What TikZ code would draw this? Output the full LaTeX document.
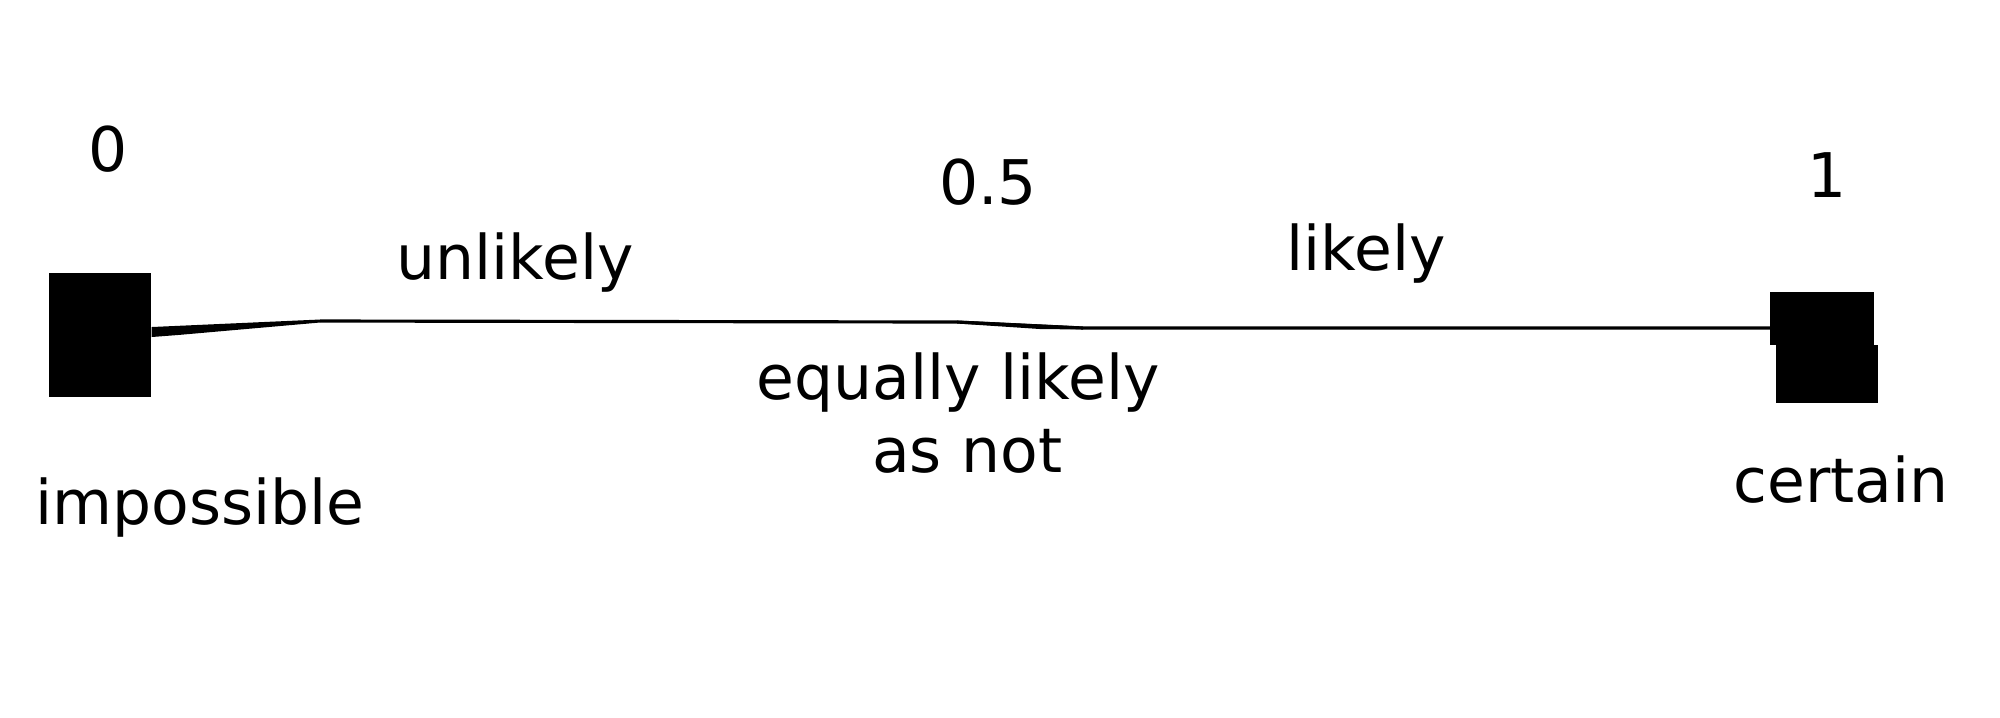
\documentclass[tikz,border=0pt]{standalone}
\usepackage{fontspec}
\setmainfont{DejaVu Sans}
\begin{document}
\begin{tikzpicture}[x=0.01cm,y=-0.01cm,
  lbl/.style={font=\fontsize{17.5}{21}\selectfont, inner sep=0pt, align=center},
  blk/.style={fill=black, draw=none, inner sep=0pt},
  conn/.style={draw=black, line width=0.9pt}]
\useasboundingbox (0,0) rectangle (2000,717);
% end blocks
\node[blk, minimum width=1.02cm, minimum height=1.24cm] (L) at (100,335) {};
\node[blk, minimum width=1.03cm, minimum height=0.53cm] (R) at (1822,318) {};
\node[blk, minimum width=1.02cm, minimum height=0.58cm] (R2) at (1827,374) {};
% connector
\coordinate (a) at (320,321);
\coordinate (b) at (957,322);
\coordinate (c) at (1083,328);
\fill[black] (L.east |- 0,327) -- (L.east |- 0,337) -- (178,335) -- (320,322.5) -- (a) -- (320,319.5) -- cycle;
\fill[black] (957,320.5) -- (1083,326.5) -- (1083,329.5) -- (1040,329) -- (957,323.5) -- cycle;
\draw[conn] (a) -- (b) -- (c) -- (c -| R.west);
% labels
\node[lbl] (n0) at (108,149) {0};
\node[lbl] (n05) at (988,182) {0.5};
\node[lbl] (n1) at (1827,175) {1};
\node[lbl] (imp) at (200,508) {impossible};
\node[lbl] (unl) at (515,263) {unlikely};
\node[lbl] (lik) at (1366,254) {likely};
\node[lbl] (eq) at (958,413) {equally likely\\\hspace*{0.3em}as not};
\node[lbl] (cer) at (1841,480) {certain};
\end{tikzpicture}
\end{document}
